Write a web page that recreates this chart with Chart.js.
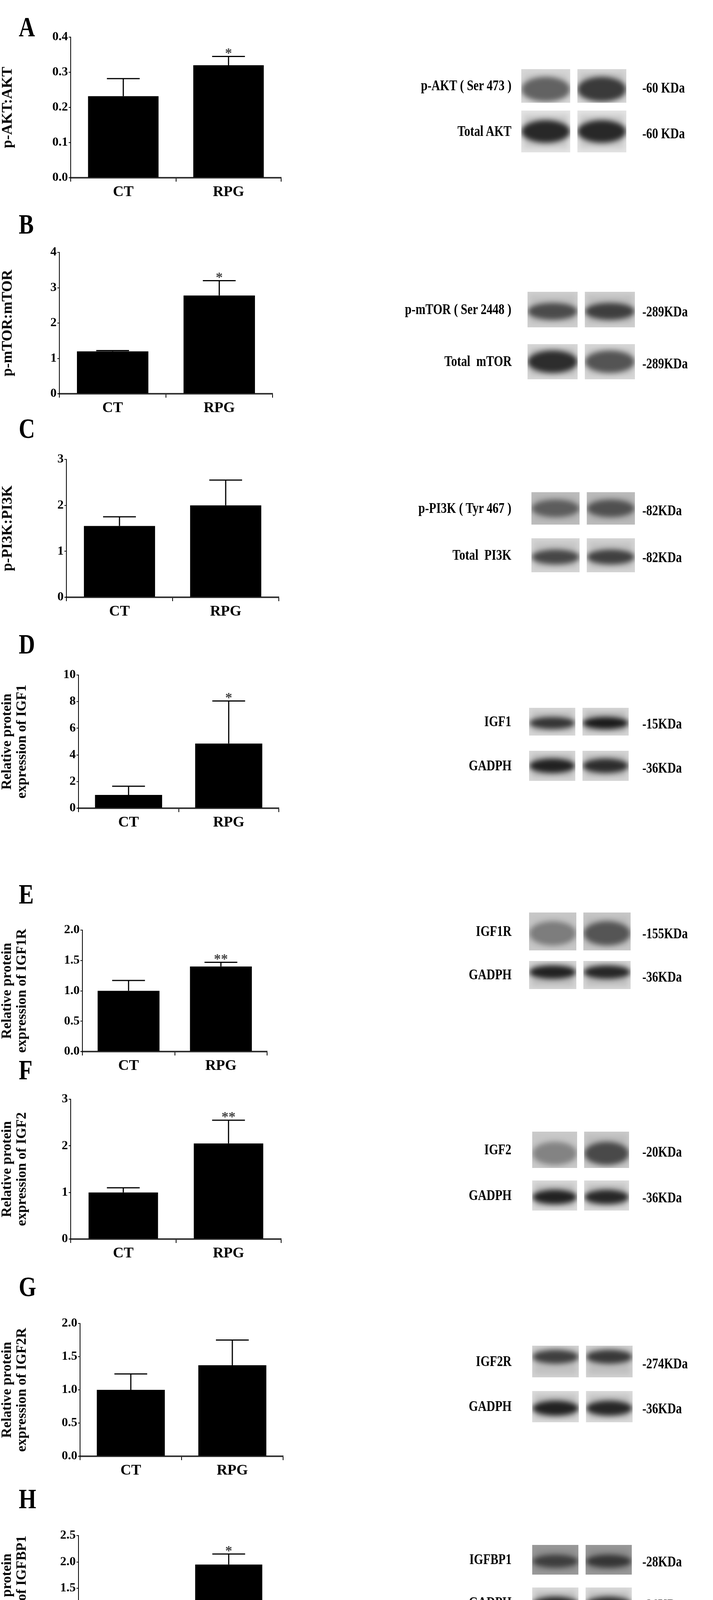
<!DOCTYPE html>
<html><head><meta charset="utf-8">
<script src="https://cdn.jsdelivr.net/npm/chart.js@4"></script>
<style>
body{margin:0;background:#fff;width:1826px;height:4924px;position:relative;overflow:hidden;font-family:"Liberation Serif",serif;}
.abs{position:absolute;}
.letter{position:absolute;font:bold 72px "Liberation Serif",serif;transform:scaleX(0.8);transform-origin:left top;}
.lab{position:absolute;font:bold 38px "Liberation Serif",serif;white-space:pre;transform:scaleX(0.8);transform-origin:right center;text-align:right;}
.kda{position:absolute;font:bold 38px "Liberation Serif",serif;white-space:pre;transform:scaleX(0.8);transform-origin:left center;}
</style></head><body>
<canvas id="blots" class="abs" width="1826" height="4924" style="left:0;top:0"></canvas>
<script>
// ---- data ----
const panelLetters = ["A","B","C","D","E","F","G","H","I"];
const categories = ["CT","RPG"];
const yTitles = [
  ["p-AKT:AKT"],["p-mTOR:mTOR"],["p-PI3K:PI3K"],
  ["Relative protein","expression of IGF1"],["Relative protein","expression of IGF1R"],
  ["Relative protein","expression of IGF2"],["Relative protein","expression of IGF2R"],
  ["Relative protein","expression of IGFBP1"],["Relative protein","expression of IGFBP4"]];
const ctMeans  = [0.232, 1.20, 1.55, 1.00, 1.00, 1.00, 1.00, 1.00, 1.00];
const rpgMeans = [0.320, 2.78, 2.00, 4.85, 1.40, 2.05, 1.37, 1.95, 2.10];
const ctUpper  = [0.282, 1.22, 1.75, 1.65, 1.17, 1.10, 1.24, 1.22, 1.12];
const rpgUpper = [0.345, 3.20, 2.55, 8.05, 1.47, 2.55, 1.75, 2.15, 2.55];
const yMaxes   = [0.4, 4, 3, 10, 2.0, 3, 2.0, 2.5, 3];
const ySteps   = [0.1, 1, 1, 2, 0.5, 1, 0.5, 0.5, 1];
const yDecimals= [1, 0, 0, 0, 1, 0, 1, 1, 0];
const sigMarks = ["*","*","","*","**","**","","*","*"];
const blotLabels = [["p-AKT ( Ser 473 )","Total AKT"],["p-mTOR ( Ser 2448 )","Total  mTOR"],["p-PI3K ( Tyr 467 )","Total  PI3K"],
  ["IGF1","GADPH"],["IGF1R","GADPH"],["IGF2","GADPH"],["IGF2R","GADPH"],["IGFBP1","GADPH"],["IGFBP4","GADPH"]];
const blotSizes = [["-60 KDa","-60 KDa"],["-289KDa","-289KDa"],["-82KDa","-82KDa"],["-15KDa","-36KDa"],["-155KDa","-36KDa"],
  ["-20KDa","-36KDa"],["-274KDa","-36KDa"],["-28KDa","-36KDa"],["-24KDa","-36KDa"]];

// ---- layout (pixel geometry) ----
// [letterY, yTopPx, yZeroPx, axisX, axisEnd, barPct]
const layout = [
 [80,95,455,181,720,0.67],[585,646,1008,152,698,0.67],[1108,1176,1529,170,714,0.67],
 [1660,1728,2069,201,714,0.67],[2300,2381,2692,211,684,0.67],[2750,2814,3172,181,720,0.66],
 [3305,3388,3728,205,725,0.67],[3848,3931,4269,201,714,0.67],[4400,4492,4835,176,688,0.67]];
const blotBoxes = [
 [[1335,1604,177,263],[1335,1604,283,390]],[[1351,1626,747,838],[1351,1626,881,971]],
 [[1361,1626,1260,1343],[1361,1626,1378,1465]],[[1355,1610,1812,1883],[1355,1610,1922,1999]],
 [[1355,1615,2336,2433],[1355,1615,2460,2532]],[[1363,1611,2897,2990],[1363,1611,3022,3099]],
 [[1363,1620,3445,3526],[1363,1620,3561,3641]],[[1363,1618,3955,4031],[1363,1618,4064,4141]],
 [[1360,1611,4591,4681],[1360,1611,4708,4786]]];
const blotStyle = [
 [[[0.45,0.75],0.6,0.25,"#d8d8d8"],[[0.9,0.9],0.5,0.15,"#e4e4e4"]],
 [[[0.6,0.7],0.55,0.12,"#d0d0d0"],[[0.85,0.55],0.5,0.2,"#d8d8d8"]],
 [[[0.4,0.5],0.5,0.15,"#bdbdbd"],[[0.65,0.7],0.55,0.1,"#d6d6d6"]],
 [[[0.8,1.0],0.55,0.1,"#d8d8d8"],[[0.95,0.85],0.5,0.12,"#d8d8d8"]],
 [[[0.2,0.5],0.55,0.2,"#c8c8c8"],[[0.95,0.9],0.4,0.12,"#d8d8d8"]],
 [[[0.15,0.6],0.6,0.2,"#cacaca"],[[0.95,0.9],0.55,0.12,"#dcdcdc"]],
 [[[0.7,0.75],0.35,0.1,"#d2d2d2"],[[0.95,0.9],0.55,0.12,"#dcdcdc"]],
 [[[0.55,0.65],0.55,0.1,"#9a9a9a"],[[0.95,0.9],0.55,0.12,"#dcdcdc"]],
 [[[0.45,0.85],0.5,0.15,"#c8c8c8"],[[0.9,0.85],0.55,0.15,"#dcdcdc"]]];

const FONT = '"Liberation Serif", serif';

// ---- blots (decorative images) ----
const bc = document.getElementById('blots').getContext('2d');
function drawBlot(box, st){
  const [x0,x1,y0,y1] = box, [ints, cf, spread, bg] = st;
  const w = x1-x0, h = y1-y0, gap = 18, lw = (w-gap)/2;
  for(let l=0;l<2;l++){
    const lx = x0 + l*(lw+gap);
    bc.save();
    bc.beginPath(); bc.rect(lx,y0,lw,h); bc.clip();
    bc.fillStyle = bg; bc.fillRect(lx,y0,lw,h);
    bc.filter = 'blur(7px)';
    bc.fillStyle = `rgba(10,10,10,${0.25+0.65*ints[l]})`;
    bc.beginPath();
    bc.ellipse(lx+lw/2, y0+h*cf, lw*0.5, h*(0.12+spread), 0, 0, Math.PI*2);
    bc.fill();
    bc.fillStyle = `rgba(0,0,0,${0.12*ints[l]})`;
    bc.fillRect(lx+6, y0+h*0.1, lw-12, h*0.8);
    bc.restore();
  }
}
for(let i=0;i<9;i++){
  for(let j=0;j<2;j++){
    const box = blotBoxes[i][j];
    drawBlot(box, blotStyle[i][j]);
    const cy = (box[2]+box[3])/2;
    const L = document.createElement('div'); L.className='lab';
    L.textContent = blotLabels[i][j];
    L.style.right = (1826-1310)+'px'; L.style.top = (cy-24)+'px';
    document.body.appendChild(L);
    const K = document.createElement('div'); K.className='kda';
    K.textContent = blotSizes[i][j];
    K.style.left = '1645px'; K.style.top = (cy-18)+'px';
    document.body.appendChild(K);
  }
}

// ---- error bars plugin ----
const errPlugin = {
  id:'errbars',
  afterDatasetsDraw(chart){
    const p = chart.options.plugins.errbars;
    const ctx = chart.ctx, xs = chart.scales.x, ys = chart.scales.y;
    ctx.save(); ctx.strokeStyle='#000'; ctx.lineWidth=3;
    p.means.forEach((m,i)=>{
      const x = xs.getPixelForValue(i), yb = ys.getPixelForValue(m), yt = ys.getPixelForValue(p.upper[i]);
      ctx.beginPath(); ctx.moveTo(x,yb); ctx.lineTo(x,yt); ctx.moveTo(x-42,yt); ctx.lineTo(x+42,yt); ctx.stroke();
    });
    if(p.sig){
      const x = xs.getPixelForValue(1), yt = ys.getPixelForValue(p.upper[1]);
      ctx.fillStyle='#444'; ctx.font='bold 36px '+FONT; ctx.textAlign='center'; ctx.textBaseline='bottom';
      ctx.fillText(p.sig, x, yt+12);
    }
    ctx.restore();
  }
};

for(let i=0;i<9;i++){
  const [ly, yTop, yZero, axisX, axisEnd, bp] = layout[i];
  const L = document.createElement('div'); L.className='letter';
  L.textContent = panelLetters[i]; L.style.left='48px'; L.style.top=(ly-52)+'px';
  document.body.appendChild(L);
  const padTop = 30, xH = 80;
  const cw = axisEnd + 20, ch = padTop + (yZero-yTop) + xH;
  const cv = document.createElement('canvas');
  cv.width = cw; cv.height = ch; cv.className='abs';
  cv.style.left='0px'; cv.style.top=(yTop-padTop)+'px';
  document.body.appendChild(cv);
  const dec = yDecimals[i];
  new Chart(cv, {
    type:'bar',
    data:{labels:categories, datasets:[{data:[ctMeans[i], rpgMeans[i]], backgroundColor:'#000', borderWidth:0,
      barPercentage:bp, categoryPercentage:1}]},
    options:{
      responsive:false, animation:false, devicePixelRatio:1,
      layout:{padding:{top:padTop, right:20, left:0, bottom:0}},
      plugins:{legend:{display:false}, tooltip:{enabled:false},
        errbars:{means:[ctMeans[i], rpgMeans[i]], upper:[ctUpper[i], rpgUpper[i]], sig:sigMarks[i]}},
      scales:{
        x:{offset:true,
          grid:{display:true, drawOnChartArea:false, drawTicks:true, tickLength:10, color:'#000', lineWidth:2},
          border:{color:'#333', width:4},
          ticks:{color:'#000', font:{family:FONT, size:38, weight:'bold'}, padding:4},
          afterFit(s){ s.height = xH; }},
        y:{min:0, max:yMaxes[i],
          grid:{display:true, drawOnChartArea:false, drawTicks:true, tickLength:5, color:'#000', lineWidth:2},
          border:{color:'#000', width:2},
          ticks:{stepSize:ySteps[i], color:'#000', padding:2, font:{family:FONT, size:32, weight:'bold'},
            callback:(v)=>Number(v).toFixed(dec)},
          title:{display:true, text:yTitles[i], color:'#000', font:{family:FONT, size:i<3?38:36, weight:'bold', lineHeight:1.05}, padding:{top:0,bottom:4}},
          afterFit(s){ s.width = axisX; }}
      }
    },
    plugins:[errPlugin]
  });
}
</script>
</body></html>
